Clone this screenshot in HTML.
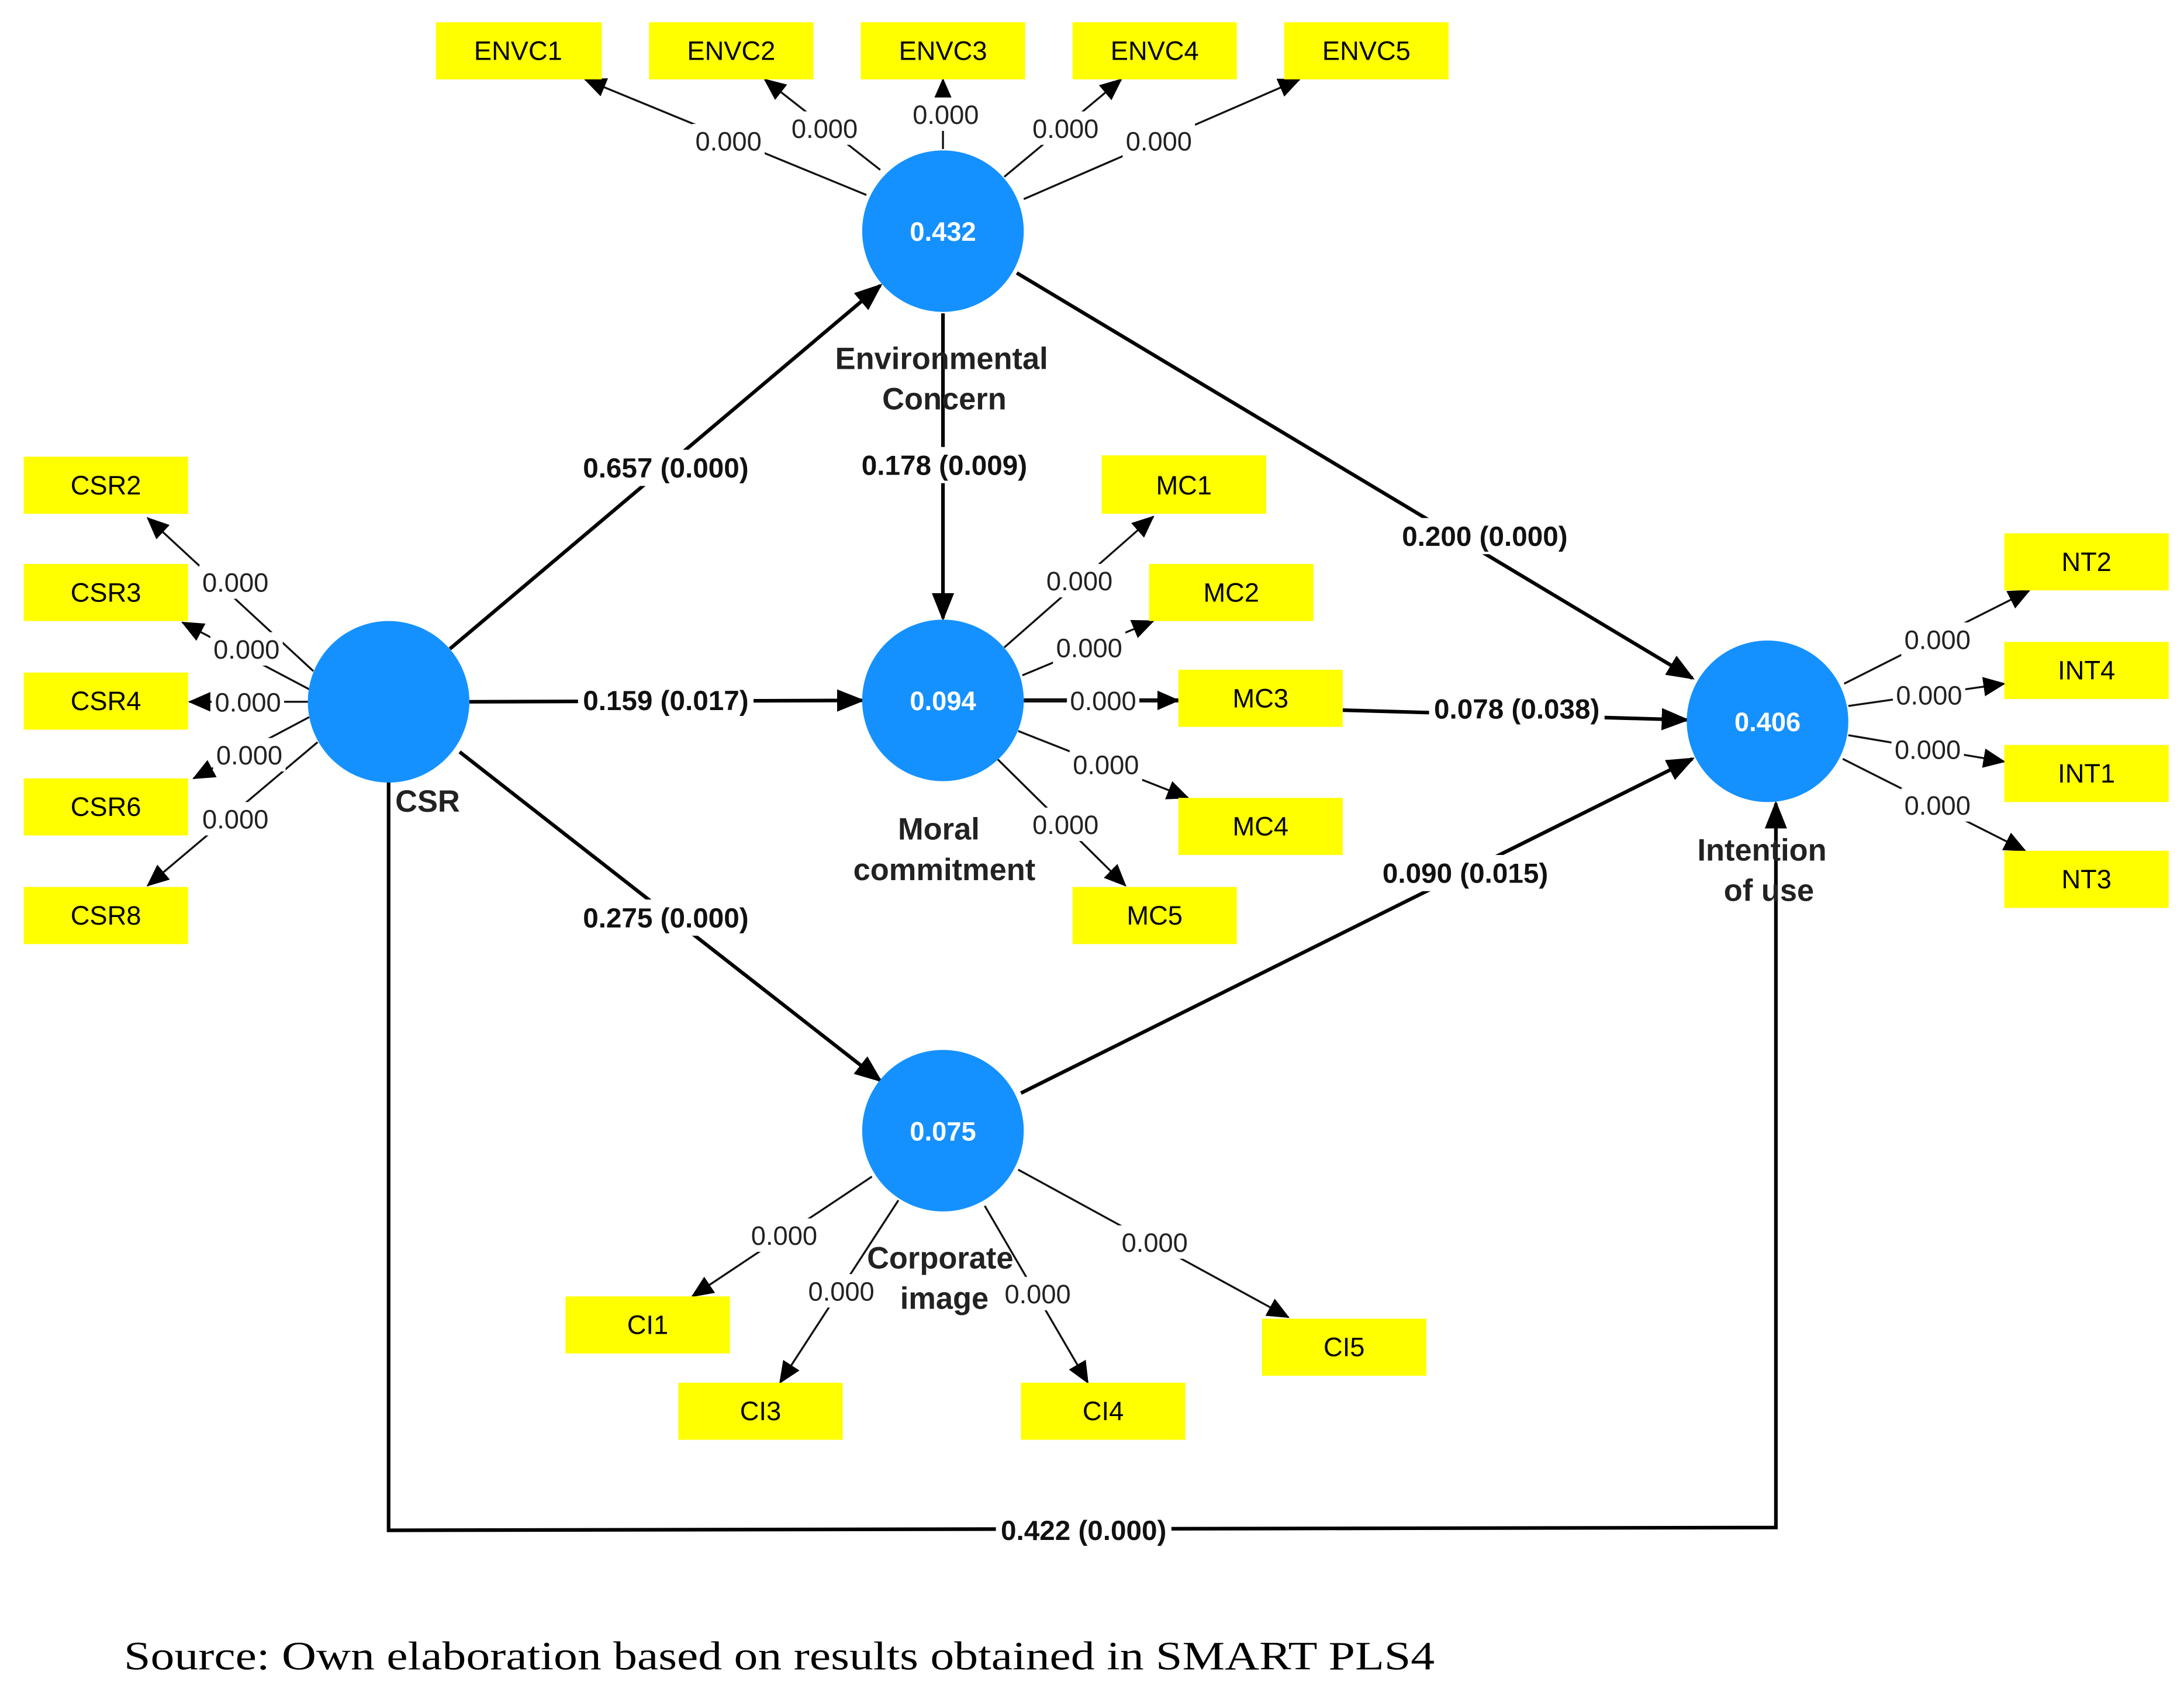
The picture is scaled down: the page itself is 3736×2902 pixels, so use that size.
<!DOCTYPE html>
<html><head><meta charset="utf-8"><style>
html,body{margin:0;padding:0;background:#fff}
svg{display:block}
</style></head><body>
<svg width="3736" height="2902" viewBox="0 0 1568 1218" preserveAspectRatio="none" xmlns="http://www.w3.org/2000/svg" font-family="Liberation Sans, Arial, sans-serif">
<defs>
<marker id="a" markerUnits="userSpaceOnUse" markerWidth="20" markerHeight="16" refX="18" refY="8" orient="auto"><path d="M0,0 L20,8 L0,16 Z" fill="#000"/></marker>
<marker id="s" markerUnits="userSpaceOnUse" markerWidth="16" markerHeight="14" refX="15" refY="7" orient="auto"><path d="M0,0 L16,7 L0,14 Z" fill="#000"/></marker>
</defs>
<rect width="1568" height="1218" fill="#fff"/>

<g stroke="#111" stroke-width="1.4" fill="none" marker-end="url(#s)">
<line x1="622" y1="140" x2="420" y2="57"/>
<line x1="632" y1="122" x2="549" y2="57"/>
<line x1="677" y1="107" x2="677" y2="57"/>
<line x1="721" y1="127" x2="805" y2="57"/>
<line x1="735" y1="143" x2="933" y2="57"/>
<line x1="225" y1="482" x2="106" y2="372"/>
<line x1="222" y1="495" x2="131" y2="447"/>
<line x1="221" y1="504" x2="136" y2="504"/>
<line x1="222" y1="515" x2="139" y2="559"/>
<line x1="228" y1="533" x2="106" y2="636"/>
<line x1="721" y1="465" x2="828" y2="371"/>
<line x1="734" y1="485" x2="828" y2="446"/>
<line x1="735" y1="503" x2="846" y2="503" stroke-width="3"/>
<line x1="731" y1="525" x2="853" y2="573"/>
<line x1="716" y1="545" x2="808" y2="636"/>
<line x1="1324" y1="491" x2="1457" y2="424"/>
<line x1="1327" y1="507" x2="1439" y2="491"/>
<line x1="1327" y1="528" x2="1439" y2="547"/>
<line x1="1323" y1="545" x2="1454" y2="611"/>
<line x1="626" y1="845" x2="497" y2="931"/>
<line x1="645" y1="862" x2="560" y2="993"/>
<line x1="707" y1="866" x2="781" y2="993"/>
<line x1="731" y1="840" x2="925" y2="946"/>
</g>

<g stroke="#000" stroke-width="2.6" fill="none" marker-end="url(#a)">
<line x1="323" y1="466" x2="632" y2="205"/>
<line x1="337" y1="504" x2="619" y2="503"/>
<line x1="330" y1="540" x2="632" y2="776"/>
<line x1="677" y1="225" x2="677" y2="444"/>
<line x1="730" y1="196" x2="1215" y2="487"/>
<line x1="964" y1="510" x2="1211" y2="517"/>
<line x1="733" y1="785" x2="1215" y2="545"/>
<polyline points="279,562 279,1099 1275,1097 1275,577"/>
</g>

<g fill="#1591ff">
<circle cx="677" cy="166" r="58"/>
<circle cx="677" cy="503" r="58"/>
<circle cx="279" cy="504" r="58"/>
<circle cx="677" cy="812" r="58"/>
<circle cx="1269" cy="518" r="58"/>
</g>
<g fill="#fff" font-size="19" font-weight="bold" text-anchor="middle">
<text x="677" y="173">0.432</text>
<text x="677" y="510">0.094</text>
<text x="677" y="819">0.075</text>
<text x="1269" y="525">0.406</text>
</g>

<g fill="#ffff00">
<rect x="313" y="16" width="119" height="41"/>
<rect x="466" y="16" width="118" height="41"/>
<rect x="618" y="16" width="118" height="41"/>
<rect x="770" y="16" width="118" height="41"/>
<rect x="922" y="16" width="118" height="41"/>
<rect x="17" y="328" width="118" height="41"/>
<rect x="17" y="405" width="118" height="41"/>
<rect x="17" y="483" width="118" height="41"/>
<rect x="17" y="559" width="118" height="41"/>
<rect x="17" y="637" width="118" height="41"/>
<rect x="791" y="327" width="118" height="42"/>
<rect x="825" y="405" width="118" height="41"/>
<rect x="846" y="481" width="118" height="41"/>
<rect x="846" y="573" width="118" height="41"/>
<rect x="770" y="637" width="118" height="41"/>
<rect x="1439" y="383" width="118" height="41"/>
<rect x="1439" y="461" width="118" height="41"/>
<rect x="1439" y="535" width="118" height="41"/>
<rect x="1439" y="611" width="118" height="41"/>
<rect x="406" y="931" width="118" height="41"/>
<rect x="487" y="993" width="118" height="41"/>
<rect x="733" y="993" width="118" height="41"/>
<rect x="906" y="947" width="118" height="41"/>
</g>
<g fill="#000" font-size="19" text-anchor="middle">
<text x="372" y="43">ENVC1</text>
<text x="525" y="43">ENVC2</text>
<text x="677" y="43">ENVC3</text>
<text x="829" y="43">ENVC4</text>
<text x="981" y="43">ENVC5</text>
<text x="76" y="355">CSR2</text>
<text x="76" y="432">CSR3</text>
<text x="76" y="510">CSR4</text>
<text x="76" y="586">CSR6</text>
<text x="76" y="664">CSR8</text>
<text x="850" y="355">MC1</text>
<text x="884" y="432">MC2</text>
<text x="905" y="508">MC3</text>
<text x="905" y="600">MC4</text>
<text x="829" y="664">MC5</text>
<text x="1498" y="410">NT2</text>
<text x="1498" y="488">INT4</text>
<text x="1498" y="562">INT1</text>
<text x="1498" y="638">NT3</text>
<text x="465" y="958">CI1</text>
<text x="546" y="1020">CI3</text>
<text x="792" y="1020">CI4</text>
<text x="965" y="974">CI5</text>
</g>

<g font-size="19" text-anchor="middle" fill="#222">
<g fill="#fff"><rect x="497" y="89" width="52" height="24"/><rect x="566" y="80" width="52" height="24"/><rect x="653" y="70" width="52" height="24"/><rect x="739" y="80" width="52" height="24"/><rect x="806" y="89" width="52" height="24"/>
<rect x="143" y="406" width="52" height="24"/><rect x="151" y="454" width="52" height="24"/><rect x="152" y="492" width="52" height="24"/><rect x="153" y="530" width="52" height="24"/><rect x="143" y="576" width="52" height="24"/>
<rect x="749" y="405" width="52" height="24"/><rect x="756" y="453" width="52" height="24"/><rect x="766" y="491" width="52" height="24"/><rect x="768" y="537" width="52" height="24"/><rect x="739" y="580" width="52" height="24"/>
<rect x="1365" y="447" width="52" height="24"/><rect x="1359" y="487" width="52" height="24"/><rect x="1358" y="526" width="52" height="24"/><rect x="1365" y="566" width="52" height="24"/>
<rect x="537" y="875" width="52" height="24"/><rect x="578" y="915" width="52" height="24"/><rect x="719" y="917" width="52" height="24"/><rect x="803" y="880" width="52" height="24"/></g>
<text x="523" y="108">0.000</text><text x="592" y="99">0.000</text><text x="679" y="89">0.000</text><text x="765" y="99">0.000</text><text x="832" y="108">0.000</text>
<text x="169" y="425">0.000</text><text x="177" y="473">0.000</text><text x="178" y="511">0.000</text><text x="179" y="549">0.000</text><text x="169" y="595">0.000</text>
<text x="775" y="424">0.000</text><text x="782" y="472">0.000</text><text x="792" y="510">0.000</text><text x="794" y="556">0.000</text><text x="765" y="599">0.000</text>
<text x="1391" y="466">0.000</text><text x="1385" y="506">0.000</text><text x="1384" y="545">0.000</text><text x="1391" y="585">0.000</text>
<text x="563" y="894">0.000</text><text x="604" y="934">0.000</text><text x="745" y="936">0.000</text><text x="829" y="899">0.000</text>
</g>

<g font-size="20" font-weight="bold" text-anchor="middle" fill="#111">
<g fill="#fff"><rect x="415" y="323" width="126" height="26"/><rect x="615" y="321" width="126" height="26"/><rect x="1003" y="372" width="126" height="26"/><rect x="415" y="490" width="126" height="26"/><rect x="1026" y="496" width="126" height="26"/><rect x="989" y="614" width="126" height="26"/><rect x="415" y="646" width="126" height="26"/><rect x="715" y="1086" width="126" height="26"/></g>
<text x="478" y="343">0.657 (0.000)</text>
<text x="678" y="341">0.178 (0.009)</text>
<text x="1066" y="392">0.200 (0.000)</text>
<text x="478" y="510">0.159 (0.017)</text>
<text x="1089" y="516">0.078 (0.038)</text>
<text x="1052" y="634">0.090 (0.015)</text>
<text x="478" y="666">0.275 (0.000)</text>
<text x="778" y="1106">0.422 (0.000)</text>
</g>

<g font-size="22" font-weight="bold" text-anchor="middle" fill="#222">
<text x="676" y="265">Environmental</text>
<text x="678" y="294">Concern</text>
<text x="307" y="583">CSR</text>
<text x="674" y="603">Moral</text>
<text x="678" y="632">commitment</text>
<text x="675" y="911">Corporate</text>
<text x="678" y="940">image</text>
<text x="1265" y="618">Intention</text>
<text x="1270" y="647">of use</text>
</g>

<text x="89" y="1199" font-family="Liberation Serif, serif" font-size="29" fill="#000" textLength="941" lengthAdjust="spacingAndGlyphs">Source: Own elaboration based on results obtained in SMART PLS4</text>
</svg>
</body></html>
